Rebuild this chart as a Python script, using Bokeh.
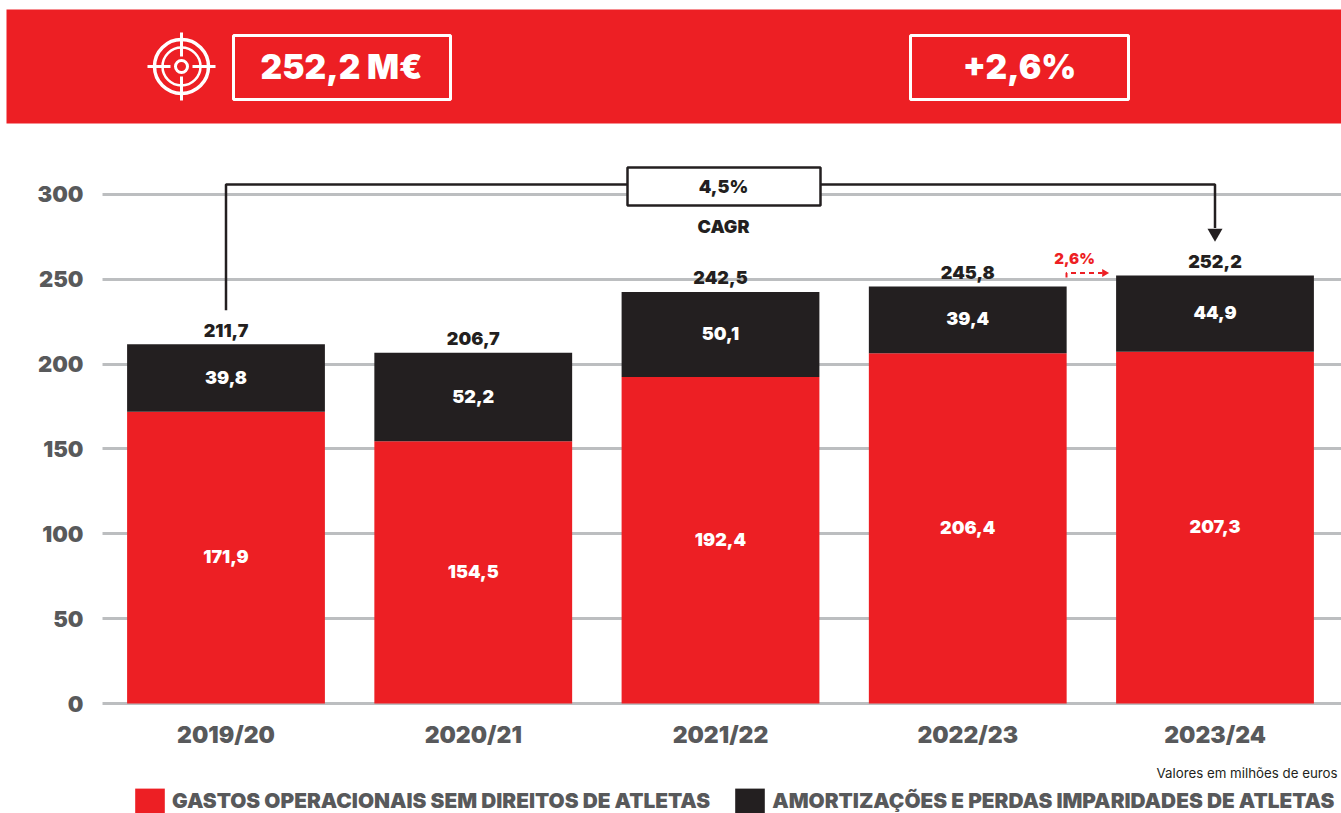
from bokeh.plotting import figure
from bokeh.models import (ColumnDataSource, FixedTicker, Legend, LegendItem, Range1d)
from bokeh.core.properties import value
from bokeh.embed import file_html
from bokeh.resources import INLINE

seasons = ["2019/20", "2020/21", "2021/22", "2022/23", "2023/24"]
operacionais = [171.9, 154.5, 192.4, 206.4, 207.3]
amortizacoes = [39.8, 52.2, 50.1, 39.4, 44.9]
totais = [211.7, 206.7, 242.5, 245.8, 252.2]
y_ticks = [0, 50, 100, 150, 200, 250, 300]
kpi_valor = "252,2 M€"
kpi_variacao = "+2,6%"
cagr = "4,5%"
variacao = "2,6%"
nome_a = "GASTOS OPERACIONAIS SEM DIREITOS DE ATLETAS"
nome_b = "AMORTIZAÇÕES E PERDAS IMPARIDADES DE ATLETAS"
nota = "Valores em milhões de euros"

RED = "#ed1f24"; DARK = "#231f20"; GREY = "#58595b"; GRID = "#bcbec0"
HEAVY = "Inter Black"

PX = 1.697; STEP = 247.25; X0 = 225.5; Y0 = 703.0
xd = lambda px: (px - X0) / STEP
yd = lambda py: (Y0 - py) / PX
fmt = lambda v: f"{v:.1f}".replace(".", ",")

W, H = 1341, 813
p = figure(width=W, height=H, output_backend="svg", toolbar_location=None,
           x_range=Range1d(xd(0), xd(W)), y_range=Range1d(yd(H), yd(0)),
           min_border=0, outline_line_color=None)
p.background_fill_color = None

xs = list(range(len(seasons)))
ax = p.xaxis[0]
ax.ticker = FixedTicker(ticks=xs)
ax.major_label_overrides = dict(zip(xs, seasons))
ax.fixed_location = yd(706)
ay = p.yaxis[0]
ay.ticker = FixedTicker(ticks=y_ticks)
ay.fixed_location = xd(102)
for a in (ax, ay):
    a.axis_line_color = None
    a.major_tick_line_color = None
    a.minor_tick_line_color = None
    a.major_label_text_font = HEAVY
    a.major_label_text_color = GREY
ax.major_label_text_font_size = "23px"
ay.major_label_text_font_size = "22px"
ax.major_label_standoff = 8
ay.major_label_standoff = 13
p.xgrid.visible = False
p.ygrid.ticker = FixedTicker(ticks=y_ticks)
p.ygrid.grid_line_color = GRID
p.ygrid.grid_line_width = 3
p.ygrid.cross_bounds = (xd(102), xd(W))

src = ColumnDataSource(dict(x=xs, a=operacionais, b=amortizacoes, t=totais,
                            zero=[0] * 5,
                            ma=[v / 2 for v in operacionais],
                            mb=[o + v / 2 for o, v in zip(operacionais, amortizacoes)],
                            la=[fmt(v) for v in operacionais],
                            lb=[fmt(v) for v in amortizacoes],
                            lt=[fmt(v) for v in totais]))
r1 = p.vbar(x="x", bottom="zero", top="a", width=0.8, source=src, fill_color=RED, line_color=None)
r2 = p.vbar(x="x", bottom="a", top="t", width=0.8, source=src, fill_color=DARK, line_color=None)

tk = dict(x="x", source=src, text_align="center", text_baseline="middle",
          text_font=value(HEAVY), text_font_size="18px")
p.text(y="ma", text="la", text_color="white", y_offset=-1, **tk)
p.text(y="mb", text="lb", text_color="white", y_offset=-1, **tk)
p.text(y="t", text="lt", text_color=DARK, y_offset=-14, **tk)

# CAGR bracket
px1, px2 = xs[0], xs[-1]
p.line([px1, px1, px2, px2], [totais[0] + 20, yd(184), yd(184), totais[-1] + 28], line_color=DARK, line_width=2.5)
p.scatter([px2], [totais[-1] + 25], marker="inverted_triangle", size=15, fill_color=DARK, line_color=None)
p.quad(left=xd(627), right=xd(820), top=yd(167), bottom=yd(205), fill_color="white", line_color=DARK, line_width=2.5)
p.text([xd(723)], [yd(186)], text=[cagr], text_align="center", text_baseline="middle",
       text_font=value(HEAVY), text_font_size="18px", text_color=DARK)
p.text([xd(723)], [yd(226)], text=["CAGR"], text_align="center", text_baseline="middle",
       text_font=value(HEAVY), text_font_size="18px", text_color=DARK)

# 2,6 % arrow
p.line([xd(1066), xd(1066), xd(1102)], [yd(277), yd(272.5), yd(272.5)], line_color=RED, line_width=2, line_dash="5 4")
p.scatter([xd(1104)], [yd(272.5)], marker="triangle", angle=-1.5708, size=8, fill_color=RED, line_color=None)
p.text([xd(1074)], [yd(258)], text=[variacao], text_align="center", text_baseline="middle",
       text_font=value(HEAVY), text_font_size="15px", text_color=RED)

# Header band
p.quad(left=xd(6), right=xd(W), top=yd(9), bottom=yd(123), fill_color=RED, line_color=None)
p.quad(left=[xd(233), xd(910)], right=[xd(450), xd(1128)], top=yd(35), bottom=yd(99),
       fill_color=None, line_color="white", line_width=3)
p.text([xd(341), xd(1019)], [yd(66), yd(66)], text=[kpi_valor, kpi_variacao], text_align="center",
       text_baseline="middle", text_font=value(HEAVY), text_font_size="33.5px", text_color="white")
# Target icon
cx, cy = xd(181), yd(66)
p.scatter([cx] * 3, [cy] * 3, marker="circle", size=[54, 38, 12], fill_color=None, line_color="white",
          line_width=[3.5, 2.5, 3])
p.segment([xd(147), xd(192), xd(181), xd(181)], [cy, cy, yd(32), yd(76)],
          [xd(170), xd(215), xd(181), xd(181)], [cy, cy, yd(56), yd(100)],
          line_color="white", line_width=3)

legend = Legend(items=[LegendItem(label=nome_a, renderers=[r1]), LegendItem(label=nome_b, renderers=[r2])],
                orientation="horizontal", location=(131, -3), margin=0, padding=0,
                background_fill_alpha=0, border_line_color=None, glyph_width=37, glyph_height=31,
                label_standoff=4, spacing=21, label_text_font=HEAVY, label_text_font_size="20.8px",
                label_text_color=GREY, label_height=25)
p.add_layout(legend, "center")
p.text([xd(1156)], [yd(772)], text=[nota], text_font=value("Inter"), text_font_size="13.3px", text_color=DARK, text_baseline="middle")

open("out.html", "w").write(file_html(p, INLINE))
